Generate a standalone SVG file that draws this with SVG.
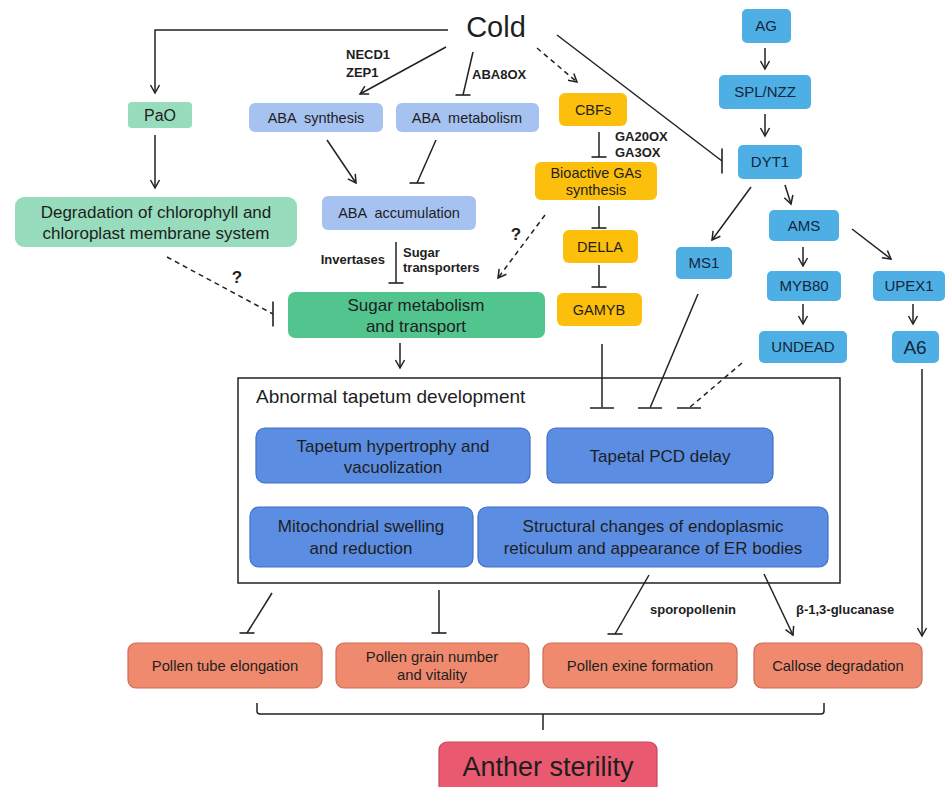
<svg xmlns="http://www.w3.org/2000/svg" width="948" height="787" viewBox="0 0 948 787">
<style>
text{font-family:"Liberation Sans",Arial,sans-serif;fill:#1e1e1e;text-anchor:middle}
.pre{white-space:pre}
.b{font-weight:bold;font-size:13px;text-anchor:start}
.q{font-weight:bold;font-size:17px}
.ln{fill:none;stroke:#222;stroke-width:1.5}
.ds{stroke-dasharray:5,4}
.mint{fill:#97dcbd}
.green{fill:#52c58f}
.aba{fill:#a6c2f1}
.ora{fill:#fcbf0c}
.sky{fill:#4eafe5}
.sky+text{fill:#14263a;font-size:15px}
.tap{fill:#5b8de3;stroke:#4171c6;stroke-width:1.2}
.sal{fill:#ef8a6e;stroke:#cd6c56;stroke-width:1.2}
.sal~text{font-size:14.8px}
.red{fill:#e95a70;stroke:#c8465c;stroke-width:1.2}
</style>
<defs>
<marker id="arr" viewBox="-10 -6 12 12" markerWidth="12" markerHeight="12" refX="0" refY="0" orient="auto" markerUnits="userSpaceOnUse"><path d="M-8,-4.5 L0,0 L-8,4.5" fill="none" stroke="#222" stroke-width="1.5"/></marker>
<marker id="teeS" viewBox="-10 -3 20 6" markerWidth="20" markerHeight="6" refX="0" refY="0" orient="0" markerUnits="userSpaceOnUse"><path d="M-7.5,0 L7.5,0" stroke="#222" stroke-width="1.6"/></marker>
<marker id="teeL" viewBox="-14 -3 28 6" markerWidth="28" markerHeight="6" refX="0" refY="0" orient="0" markerUnits="userSpaceOnUse"><path d="M-12,0 L12,0" stroke="#444" stroke-width="1.8"/></marker>
<marker id="teeV" viewBox="-3 -14 6 28" markerWidth="6" markerHeight="28" refX="0" refY="0" orient="0" markerUnits="userSpaceOnUse"><path d="M0,-12.5 L0,12.5" stroke="#222" stroke-width="1.6"/></marker>
</defs>

<g id="tapetum">
<rect x="238" y="378" width="602" height="205" fill="none" stroke="#222" stroke-width="1.5"/>
<text x="256" y="403" style="font-size:19px;text-anchor:start">Abnormal tapetum development</text>
</g>

<g id="connectors">
<path class="ln" d="M448,30 L155,30 L155,93" marker-end="url(#arr)"/>
<path class="ln" d="M446,47 L360,94" marker-end="url(#arr)"/>
<path class="ln" d="M473,52 L463,95" marker-end="url(#teeS)"/>
<path class="ln ds" d="M537,48 L577,82" marker-end="url(#arr)"/>
<path class="ln" d="M557,35 L722,161" marker-end="url(#teeV)"/>
<path class="ln" d="M599,132 L599,157" marker-end="url(#teeS)"/>
<path class="ln" d="M599,206 L599,228" marker-end="url(#teeS)"/>
<path class="ln" d="M599,265 L599,287" marker-end="url(#teeS)"/>
<path class="ln" d="M602,344 L602,408" marker-end="url(#teeL)"/>
<path class="ln" d="M698,294 L650,408" marker-end="url(#teeL)"/>
<path class="ln ds" d="M742,363 L689,408" marker-end="url(#teeL)"/>
<path class="ln" d="M765,48 L765,69" marker-end="url(#arr)"/>
<path class="ln" d="M765,114 L765,136" marker-end="url(#arr)"/>
<path class="ln" d="M785,185 L791,204" marker-end="url(#arr)"/>
<path class="ln" d="M751,187 L712,240" marker-end="url(#arr)"/>
<path class="ln" d="M803,247 L803,266" marker-end="url(#arr)"/>
<path class="ln" d="M852,229 L891,259" marker-end="url(#arr)"/>
<path class="ln" d="M803,304 L803,324" marker-end="url(#arr)"/>
<path class="ln" d="M913,304 L913,324" marker-end="url(#arr)"/>
<path class="ln" d="M922,369 L922,636" marker-end="url(#arr)"/>
<path class="ln" d="M155,135 L155,188" marker-end="url(#arr)"/>
<path class="ln ds" d="M167,257 L273,314" marker-end="url(#teeV)"/>
<path class="ln" d="M327,140 L356,183" marker-end="url(#arr)"/>
<path class="ln" d="M436,140 L417,183" marker-end="url(#teeS)"/>
<path class="ln" d="M396,242 L396,283" marker-end="url(#teeS)"/>
<path class="ln ds" d="M545,215 L498,278" marker-end="url(#arr)"/>
<path class="ln" d="M400,343 L400,368" marker-end="url(#arr)"/>
<path class="ln" d="M272,593 L247,633" marker-end="url(#teeS)"/>
<path class="ln" d="M439,590 L439,633" marker-end="url(#teeS)"/>
<path class="ln" d="M649,575 L615,634" marker-end="url(#teeS)"/>
<path class="ln" d="M764,574 L793,635" marker-end="url(#arr)"/>
<path class="ln" d="M257,703 L257,711 Q257,714 260,714 L821,714 Q824,714 824,711 L824,703 M543,714 L543,730"/>
</g>

<g id="labels">
<text class="b" x="346" y="59">NECD1</text>
<text class="b" x="346" y="77">ZEP1</text>
<text class="b" x="472" y="79">ABA8OX</text>
<text class="b" x="615" y="141">GA20OX</text>
<text class="b" x="615" y="157">GA3OX</text>
<text class="b" x="385" y="264" style="text-anchor:end">Invertases</text>
<text class="b" x="403" y="257">Sugar</text>
<text class="b" x="403" y="272">transporters</text>
<text class="q" x="516" y="240">?</text>
<text class="q" x="237" y="283">?</text>
<text class="b" x="650" y="614">sporopollenin</text>
<text class="b" x="796" y="614">β-1,3-glucanase</text>
</g>

<g id="cold"><text x="496" y="37" style="font-size:29px">Cold</text></g>

<g id="pao"><rect class="mint" x="128" y="102" width="64" height="26" rx="4"/><text x="160" y="121" style="font-size:16px">PaO</text></g>
<g id="degradation"><rect class="mint" x="15" y="197" width="282" height="50" rx="9"/><text x="156" y="218" style="font-size:17px">Degradation of chlorophyll and</text><text x="156" y="239" style="font-size:17px">chloroplast membrane system</text></g>

<g id="aba-synthesis"><rect class="aba" x="249" y="103" width="134" height="29" rx="6"/><text class="pre" x="316" y="123" style="font-size:14.5px">ABA  synthesis</text></g>
<g id="aba-metabolism"><rect class="aba" x="396" y="103" width="143" height="29" rx="6"/><text class="pre" x="467" y="123" style="font-size:14.5px">ABA  metabolism</text></g>
<g id="aba-accumulation"><rect class="aba" x="322" y="196" width="154" height="34" rx="6"/><text class="pre" x="399" y="218" style="font-size:14.5px">ABA  accumulation</text></g>
<g id="sugar"><rect class="green" x="288" y="292" width="257" height="46" rx="7"/><text x="416" y="311" style="font-size:17px">Sugar metabolism</text><text x="416" y="332" style="font-size:17px">and transport</text></g>

<g id="cbfs"><rect class="ora" x="559" y="93" width="68" height="33" rx="6"/><text x="593" y="115" style="font-size:14.5px">CBFs</text></g>
<g id="bioactive"><rect class="ora" x="535" y="162" width="122" height="38" rx="6"/><text x="596" y="178" style="font-size:14.5px">Bioactive GAs</text><text x="596" y="195" style="font-size:14.5px">synthesis</text></g>
<g id="della"><rect class="ora" x="563" y="230" width="75" height="33" rx="6"/><text x="600" y="252" style="font-size:14.5px">DELLA</text></g>
<g id="gamyb"><rect class="ora" x="557" y="293" width="85" height="33" rx="6"/><text x="599" y="315" style="font-size:14.5px">GAMYB</text></g>

<g id="ag"><rect class="sky" x="742" y="9" width="49" height="34" rx="5"/><text x="766" y="31">AG</text></g>
<g id="spl"><rect class="sky" x="719" y="75" width="92" height="34" rx="5"/><text x="765" y="97">SPL/NZZ</text></g>
<g id="dyt1"><rect class="sky" x="738" y="145" width="64" height="34" rx="5"/><text x="770" y="167">DYT1</text></g>
<g id="ams"><rect class="sky" x="769" y="210" width="70" height="31" rx="5"/><text x="804" y="231">AMS</text></g>
<g id="ms1"><rect class="sky" x="676" y="247" width="56" height="32" rx="5"/><text x="704" y="268">MS1</text></g>
<g id="myb80"><rect class="sky" x="767" y="271" width="74" height="30" rx="5"/><text x="804" y="291">MYB80</text></g>
<g id="upex1"><rect class="sky" x="873" y="271" width="72" height="30" rx="5"/><text x="909" y="291">UPEX1</text></g>
<g id="undead"><rect class="sky" x="759" y="331" width="88" height="32" rx="5"/><text x="803" y="352">UNDEAD</text></g>
<g id="a6"><rect class="sky" x="892" y="331" width="47" height="32" rx="5"/><text x="915" y="354" style="font-size:19px">A6</text></g>

<g id="hypertrophy"><rect class="tap" x="256" y="428" width="274" height="55" rx="9"/><text x="393" y="452" style="font-size:17px">Tapetum hypertrophy and</text><text x="393" y="473" style="font-size:17px">vacuolization</text></g>
<g id="pcd"><rect class="tap" x="547" y="428" width="226" height="55" rx="9"/><text x="660" y="462" style="font-size:17px">Tapetal PCD delay</text></g>
<g id="mito"><rect class="tap" x="250" y="507" width="223" height="60" rx="9"/><text x="361" y="532" style="font-size:17px">Mitochondrial swelling</text><text x="361" y="554" style="font-size:17px">and reduction</text></g>
<g id="er"><rect class="tap" x="478" y="507" width="350" height="60" rx="9"/><text x="653" y="532" style="font-size:17px">Structural changes of endoplasmic</text><text x="653" y="554" style="font-size:17px">reticulum and appearance of ER bodies</text></g>

<g id="pollen-tube"><rect class="sal" x="128" y="643" width="194" height="45" rx="8"/><text x="225" y="671">Pollen tube elongation</text></g>
<g id="pollen-grain"><rect class="sal" x="336" y="643" width="193" height="45" rx="8"/><text x="432" y="662">Pollen grain number</text><text x="432" y="680">and vitality</text></g>
<g id="pollen-exine"><rect class="sal" x="543" y="643" width="194" height="45" rx="8"/><text x="640" y="671">Pollen exine formation</text></g>
<g id="callose"><rect class="sal" x="754" y="643" width="168" height="45" rx="8"/><text x="838" y="671">Callose degradation</text></g>

<g id="anther"><rect class="red" x="439" y="742" width="218" height="52" rx="8"/><text x="548" y="776" style="font-size:27px">Anther sterility</text></g>
</svg>
